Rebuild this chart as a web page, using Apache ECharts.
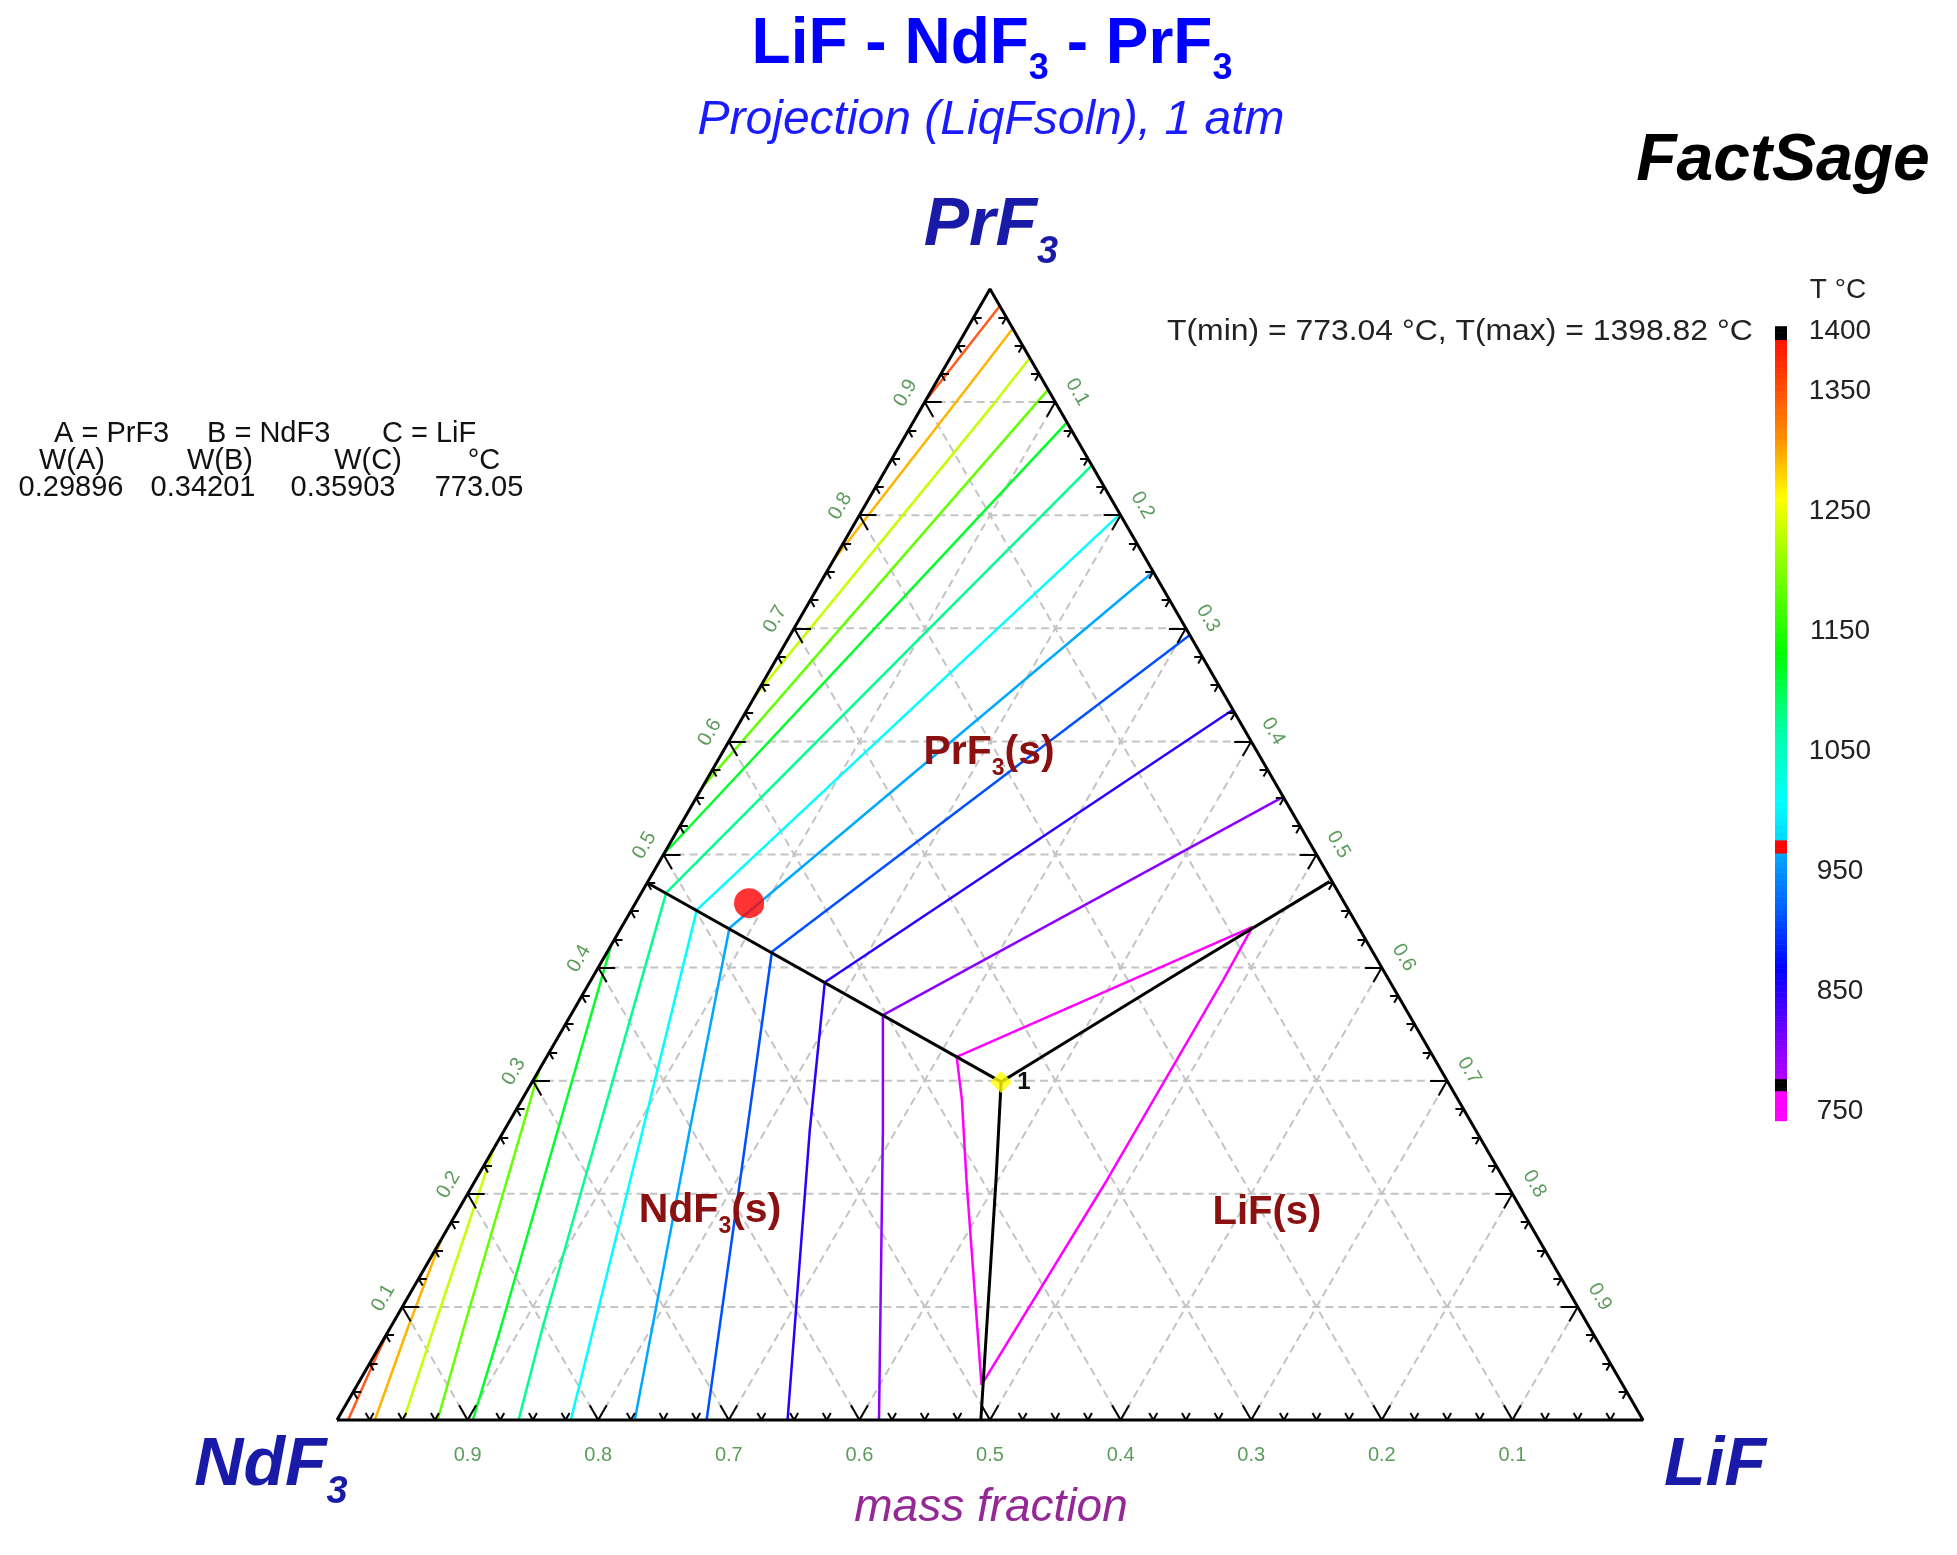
<!DOCTYPE html>
<html>
<head>
<meta charset="utf-8">
<script src="https://cdn.jsdelivr.net/npm/echarts/dist/echarts.min.js"></script>
<style>
  html, body { margin: 0; padding: 0; background: #fff; }
  #chart { width: 1957px; height: 1555px; }
</style>
</head>
<body>
<div id="chart"></div>
<script>
// LiF - NdF3 - PrF3 liquidus projection, points are [w(PrF3), w(LiF)]
var isoTemps = [1350, 1300, 1250, 1200, 1150, 1100, 1050, 1000, 950, 900, 850, 800];

// NdF3(s) primary field, from the NdF3-LiF edge upward
var ndf3Field = [
  [[0, 0.0085], [0.057, 0.002], [0.08, 0]],
  [[0, 0.029], [0.08, 0.0138], [0.16, 0]],
  [[0, 0.051], [0.08, 0.0337], [0.24, 0]],
  [[0, 0.077], [0.08, 0.0567], [0.31, 0]],
  [[0, 0.104], [0.08, 0.085], [0.42, 0]],
  [[0, 0.139], [0.08, 0.117], [0.466, 0.019]],
  [[0, 0.179], [0.256, 0.106], [0.451, 0.050]],
  [[0, 0.228], [0.256, 0.142], [0.435, 0.083]],
  [[0, 0.283], [0.256, 0.186], [0.414, 0.126]],
  [[0, 0.345], [0.256, 0.234], [0.387, 0.180]],
  [[0, 0.415], [0.256, 0.290], [0.358, 0.239]],
  [[0.031, 0.478], [0.212, 0.376], [0.283, 0.337], [0.321, 0.314]]
];
// PrF3(s) primary field, towards the PrF3-LiF edge
var prf3Field = [
  [[0.90, 0], [0.985, 0.015]],
  [[0.76, 0], [0.903, 0.0245], [0.965, 0.035]],
  [[0.64, 0], [0.90, 0.054], [0.939, 0.061]],
  [[0.56, 0], [0.911, 0.089]],
  [[0.50, 0], [0.882, 0.118]],
  [[0.466, 0.019], [0.844, 0.156]],
  [[0.451, 0.050], [0.801, 0.199]],
  [[0.435, 0.083], [0.750, 0.250]],
  [[0.414, 0.126], [0.694, 0.306]],
  [[0.387, 0.180], [0.628, 0.372]],
  [[0.358, 0.239], [0.551, 0.449]],
  [[0.321, 0.314], [0.436, 0.483]]
];
// LiF(s) primary field
var lifField = [null, null, null, null, null, null, null, null, null, null, null,
  [[0.031, 0.478], [0.212, 0.4835], [0.389, 0.484], [0.436, 0.483]]
];

// univariant lines
var bndPrNd = [[0.475, 0], [0.29896, 0.35903]];
var bndPrLi = [[0.476, 0.522], [0.389, 0.441], [0.311, 0.370], [0.29896, 0.35903]];
var bndNdLi = [[0.29896, 0.35903], [0.2122, 0.3985], [0, 0.493]];

var eutectic = [0.29896, 0.35903];
var redPoint = [0.457, 0.087];

var gridLevels = [0.1, 0.2, 0.3, 0.4, 0.5, 0.6, 0.7, 0.8, 0.9];
var cbLabels = [750, 850, 950, 1050, 1150, 1250, 1350, 1400];

// colour scale of the temperature bar
var rampTemps = [1393, 1370, 1310, 1261, 1200, 1132, 1070, 1008, 976, 965, 920, 869, 807, 777];
var rampColors = ['#ff1400', '#ff3000', '#ff9000', '#ffff00', '#80ff00', '#00ff00', '#00ffa0',
  '#00ffff', '#00d8ff', '#00a8ff', '#0060ff', '#0000ff', '#8000ff', '#b000ff'];
var stripes = [[1393, 1404, '#000000'], [965, 976, '#ff0000'], [767, 777, '#000000'], [742, 767, '#ff00ff']];

// line colours of the isotherms
var isoColors = ['#ff5a1e', '#ffb400', '#c8ff00', '#64ff00', '#00ff28', '#00ff8c', '#00ffff',
  '#00a8ff', '#0050ff', '#2800ff', '#8c00ff', '#ff00ff'];

var FONT = 'Liberation Sans, Arial, sans-serif';
var TL = 337, TB = 1420, SIDE = 1306, HGT = 1131;

function tern(p) { return [p[1] + p[0] / 2, p[0]]; }
function px(a, c) { return [TL + SIDE * (c + a / 2), TB - HGT * a]; }

function hex2rgb(h) { return [parseInt(h.substr(1, 2), 16), parseInt(h.substr(3, 2), 16), parseInt(h.substr(5, 2), 16)]; }
function colorAt(t) {
  for (var k = 0; k < stripes.length; k++) {
    if (t >= stripes[k][0] && t < stripes[k][1]) return stripes[k][2];
  }
  if (t >= rampTemps[0]) return rampColors[0];
  for (var i = 0; i < rampTemps.length - 1; i++) {
    var t0 = rampTemps[i], t1 = rampTemps[i + 1];
    if (t <= t0 && t >= t1) {
      var f = (t0 - t) / (t0 - t1);
      var c0 = hex2rgb(rampColors[i]), c1 = hex2rgb(rampColors[i + 1]);
      return 'rgb(' + c0.map(function (v, j) { return Math.round(v + (c1[j] - v) * f); }).join(',') + ')';
    }
  }
  return rampColors[rampColors.length - 1];
}

function lineSeries(pts, color, width, type, z) {
  return {
    type: 'line', xAxisIndex: 0, yAxisIndex: 0, data: pts.map(tern),
    symbol: 'none', silent: true, clip: false, z: z,
    lineStyle: { color: color, width: width, type: type, cap: 'butt' }
  };
}

var series = [];

// dashed grid
gridLevels.forEach(function (g) {
  series.push(lineSeries([[g, 0], [g, 1 - g]], '#c4c4c4', 2, [8, 5], 1));
  series.push(lineSeries([[0, g], [1 - g, g]], '#c4c4c4', 2, [8, 5], 1));
  series.push(lineSeries([[0, 1 - g], [1 - g, 0]], '#c4c4c4', 2, [8, 5], 1));
});

// isotherms
isoTemps.forEach(function (t, i) {
  series.push(lineSeries(ndf3Field[i], isoColors[i], 2.5, 'solid', 3));
  series.push(lineSeries(prf3Field[i], isoColors[i], 2.5, 'solid', 3));
  if (lifField[i]) series.push(lineSeries(lifField[i], isoColors[i], 2.5, 'solid', 3));
});

// univariant lines and the triangle
series.push(lineSeries(bndPrNd, '#000', 3, 'solid', 4));
series.push(lineSeries(bndPrLi, '#000', 3, 'solid', 4));
series.push(lineSeries(bndNdLi, '#000', 3, 'solid', 4));
series.push(lineSeries([[0, 0], [0, 1], [1, 0], [0, 0]], '#000', 3, 'solid', 5));

// edge ticks
var tickSegs = [];
for (var k = 1; k < 40; k++) {
  var f = k / 40, d = (k % 4 === 0 ? 17 : 8) / SIDE;
  tickSegs.push([[0, f], [d, f]], [[0, f], [d, f - d]]);
  tickSegs.push([[f, 0], [f, d]], [[f, 0], [f - d, d]]);
  tickSegs.push([[1 - f, f], [1 - f, f - d]], [[1 - f, f], [1 - f - d, f]]);
}
series.push({
  type: 'lines', coordinateSystem: 'cartesian2d', xAxisIndex: 0, yAxisIndex: 0,
  silent: true, z: 5, polyline: false,
  lineStyle: { color: '#000', width: 2, opacity: 1 },
  data: tickSegs.map(function (s) { return { coords: [tern(s[0]), tern(s[1])] }; })
});

// markers
series.push({
  type: 'scatter', xAxisIndex: 0, yAxisIndex: 0, z: 6, silent: true,
  symbol: 'circle', symbolSize: 30, itemStyle: { color: '#ff0000' },
  data: [tern(redPoint)]
});
series.push({
  type: 'scatter', xAxisIndex: 0, yAxisIndex: 0, z: 6, silent: true,
  symbol: 'diamond', symbolSize: 22, itemStyle: { color: '#ffff00' },
  data: [tern(eutectic)]
});

// temperature colour bar
var barSteps = [];
for (var t = 742; t < 1404; t += 1) barSteps.push([t, t + 1]);
series.push({
  type: 'custom', xAxisIndex: 1, yAxisIndex: 1, silent: true, clip: false,
  data: barSteps,
  renderItem: function (params, api) {
    var lo = api.value(0), hi = api.value(1);
    var p0 = api.coord([0, lo]), p1 = api.coord([1, hi]);
    return {
      type: 'rect',
      shape: { x: p0[0], y: p1[1], width: p1[0] - p0[0], height: p0[1] - p1[1] + 0.6 },
      style: { fill: colorAt((lo + hi) / 2) }
    };
  }
});

function chem(str, size, color, italic, bold) {
  var parts = str.split(/_(\d)/);
  var txt = '';
  parts.forEach(function (p, i) { if (p) txt += (i % 2 ? '{s|' : '{m|') + p + '}'; });
  var base = { fontFamily: FONT, fontStyle: italic ? 'italic' : 'normal', fontWeight: bold ? 'bold' : 'normal', fill: color, verticalAlign: 'bottom' };
  return {
    text: txt,
    rich: {
      m: Object.assign({ fontSize: size, padding: [0, 0, Math.round(size * 0.16), 0] }, base),
      s: Object.assign({ fontSize: Math.round(size * 0.56) }, base)
    },
    align: 'center', verticalAlign: 'middle'
  };
}
function txt(x, y, s, size, color, opts) {
  opts = opts || {};
  return {
    type: 'text', x: x, y: y, rotation: opts.rot || 0, scaleX: opts.sx || 1, z: 20, silent: true,
    style: {
      text: s, fontSize: size, fontFamily: FONT, fill: color,
      fontWeight: opts.bold ? 'bold' : 'normal', fontStyle: opts.italic ? 'italic' : 'normal',
      align: opts.align || 'center', verticalAlign: 'middle'
    }
  };
}
function chemEl(x, y, s, size, color, italic, bold) {
  return { type: 'text', x: x, y: y, z: 20, silent: true, style: chem(s, size, color, italic, bold) };
}

var graphic = [];
graphic.push(chemEl(992, 50, 'LiF - NdF_3 - PrF_3', 64, '#0000ff', false, true));
graphic.push(txt(991, 121, 'Projection (LiqFsoln), 1 atm', 48, '#1a1aff', { italic: true }));
graphic.push(txt(1783, 162, 'FactSage', 66, '#000', { italic: true, bold: true }));
graphic.push(chemEl(991, 232, 'PrF_3', 68, '#1a1aa8', true, true));
graphic.push(chemEl(271, 1472, 'NdF_3', 68, '#1a1aa8', true, true));
graphic.push(txt(1715, 1466, 'LiF', 68, '#1a1aa8', { italic: true, bold: true }));
graphic.push(txt(991, 1508, 'mass fraction', 46, '#962896', { italic: true }));

graphic.push(chemEl(989, 756, 'PrF_3(s)', 41, '#8b1010', false, true));
graphic.push(chemEl(710, 1214, 'NdF_3(s)', 41, '#8b1010', false, true));
graphic.push(txt(1267, 1213, 'LiF(s)', 40, '#8b1010', { bold: true }));
graphic.push(txt(1024, 1082, '1', 24, '#111', { bold: true }));

// composition of the eutectic
graphic.push(txt(54, 434, 'A = PrF3', 29, '#111', { align: 'left' }));
graphic.push(txt(207, 434, 'B = NdF3', 29, '#111', { align: 'left' }));
graphic.push(txt(382, 434, 'C = LiF', 29, '#111', { align: 'left' }));
graphic.push(txt(72, 461, 'W(A)', 29, '#111'));
graphic.push(txt(220, 461, 'W(B)', 29, '#111'));
graphic.push(txt(368, 461, 'W(C)', 29, '#111'));
graphic.push(txt(484, 461, '°C', 29, '#111'));
graphic.push(txt(71, 488, eutectic[0].toFixed(5), 29, '#111'));
graphic.push(txt(203, 488, (1 - eutectic[0] - eutectic[1]).toFixed(5), 29, '#111'));
graphic.push(txt(343, 488, eutectic[1].toFixed(5), 29, '#111'));
graphic.push(txt(479, 488, '773.05', 29, '#111'));

graphic.push(txt(1838, 290, 'T °C', 28, '#222'));
graphic.push(txt(1167, 332, 'T(min) = 773.04 °C, T(max) = 1398.82 °C', 29, '#222', { align: 'left', sx: 1.1 }));

// edge tick labels
gridLevels.forEach(function (g) {
  var lab = g.toFixed(1);
  var pb = px(0, g);
  graphic.push(txt(pb[0], 1455, (1 - g).toFixed(1), 20, '#5c9c5c'));
  var pl = px(g, 0);
  graphic.push(txt(pl[0] - 19, pl[1] - 9, lab, 20, '#5c9c5c', { rot: Math.PI / 3 }));
  var pr = px(1 - g, g);
  graphic.push(txt(pr[0] + 22, pr[1] - 10, lab, 20, '#5c9c5c', { rot: -Math.PI / 3 }));
});

var chart = echarts.init(document.getElementById('chart'));
chart.setOption({
  animation: false,
  backgroundColor: '#ffffff',
  grid: [
    { left: TL, top: TB - HGT, width: SIDE, height: HGT },
    { left: 1775, top: 331, width: 12, height: 780 }
  ],
  xAxis: [
    { type: 'value', gridIndex: 0, min: 0, max: 1, show: false },
    { type: 'value', gridIndex: 1, min: 0, max: 1, show: false }
  ],
  yAxis: [
    { type: 'value', gridIndex: 0, min: 0, max: 1, show: false },
    {
      type: 'value', gridIndex: 1, min: 750, max: 1400, interval: 50, position: 'right',
      axisLine: { show: false }, axisTick: { show: false }, splitLine: { show: false },
      axisLabel: {
        margin: 53, align: 'center', fontSize: 28, color: '#222', fontFamily: FONT,
        formatter: function (v) { return cbLabels.indexOf(v) >= 0 ? String(v) : ''; }
      }
    }
  ],
  series: series,
  graphic: graphic
});
</script>
</body>
</html>
